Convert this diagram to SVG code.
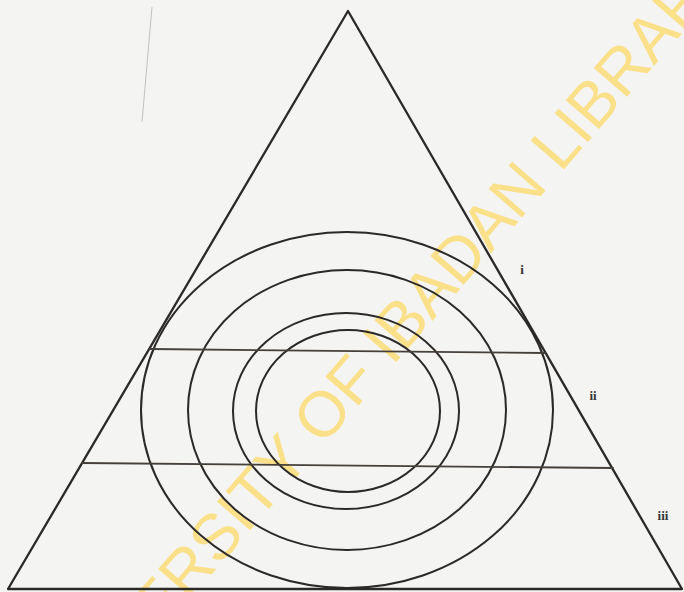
<svg xmlns="http://www.w3.org/2000/svg" width="684" height="592" viewBox="0 0 684 592">
  <style>
    .ln { fill: none; stroke: #2b2928; stroke-linecap: round; stroke-linejoin: round; }
    .tri { stroke-width: 2.3; }
    .ring { stroke-width: 2; }
    .hl { stroke: #46403b; stroke-width: 1.8; }
    .lbl { font-family: "Liberation Serif", "Times New Roman", serif; font-size: 13px; font-weight: bold; fill: #333333; }
    .wm { font-family: "Liberation Sans", Arial, sans-serif; font-size: 64px; fill: #fbe08a; }
  </style>
  <rect x="0" y="0" width="684" height="592" fill="#f4f4f2"/>
  <g id="watermark">
    <text class="wm" transform="translate(383,344) rotate(-49)" x="0" y="0" text-anchor="middle" dominant-baseline="central">UNIVERSITY OF IBADAN LIBRARY</text>
  </g>
  <path d="M152,7 L142,122" stroke="#b5b5b5" stroke-width="0.8" fill="none"/>
  <g id="triangle">
    <path class="ln tri" d="M348,11 L682,589 L8,589 Z"/>
  </g>
  <g id="rings">
    <ellipse class="ln ring" cx="348" cy="411" rx="92" ry="81"/>
    <ellipse class="ln ring" cx="346" cy="411" rx="113" ry="98"/>
    <ellipse class="ln ring" cx="347" cy="410" rx="159" ry="140"/>
    <ellipse class="ln ring" cx="347" cy="410" rx="206" ry="178"/>
  </g>
  <g id="connectors">
    <path class="ln hl" d="M150,349 L545,353"/>
    <path class="ln hl" d="M82,463 L613,468"/>
  </g>
  <g id="labels">
    <text class="lbl" x="522" y="274" text-anchor="middle">i</text>
    <text class="lbl" x="593" y="400" text-anchor="middle">ii</text>
    <text class="lbl" x="663" y="520" text-anchor="middle">iii</text>
  </g>
</svg>
